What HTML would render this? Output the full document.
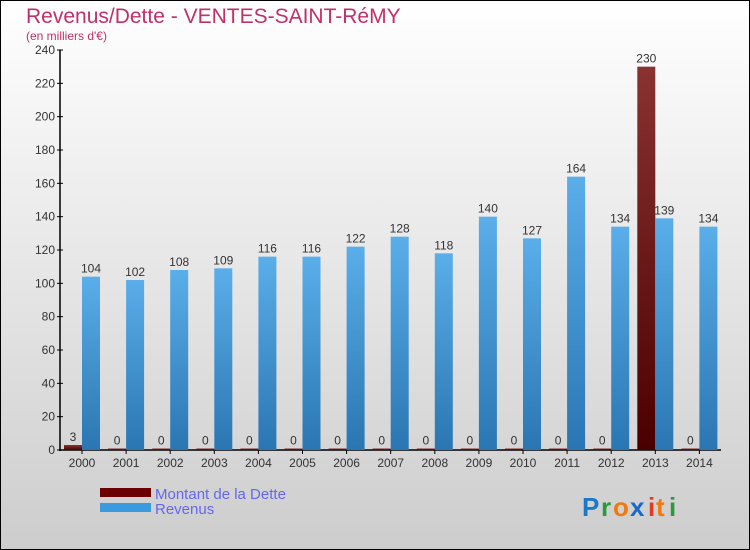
<!DOCTYPE html>
<html><head><meta charset="utf-8"><style>
body{margin:0}
#c{width:750px;height:550px;position:relative;overflow:hidden;font-family:"Liberation Sans",sans-serif}
</style></head><body>
<div id="c">
<svg id="s" width="750" height="550" xmlns="http://www.w3.org/2000/svg">
<defs>
<linearGradient id="bg" x1="0" y1="0" x2="0" y2="1"><stop offset="0" stop-color="#ffffff"/><stop offset="1" stop-color="#cdcdcd"/></linearGradient>
<linearGradient id="gb" x1="0" y1="0" x2="0" y2="1"><stop offset="0" stop-color="#5aaee9"/><stop offset="1" stop-color="#2a76b2"/></linearGradient>
<linearGradient id="gr" x1="0" y1="0" x2="0" y2="1"><stop offset="0" stop-color="#8a3232"/><stop offset="1" stop-color="#4a0000"/></linearGradient>
</defs>
<rect x="0.5" y="0.5" width="749" height="549" fill="url(#bg)" stroke="#000"/>
<text x="26" y="23" font-size="21" fill="#c0306a">Revenus/Dette - VENTES-SAINT-RéMY</text>
<text x="26" y="40" font-size="12" fill="#c0306a">(en milliers d'€)</text>
<g id="plot"></g>
<rect x="100" y="488" width="51" height="9" fill="#6a0000"/>
<rect x="100" y="503" width="51" height="9" fill="#3a9ae0"/>
<text x="155" y="499" font-size="15" fill="#6666ee">Montant de la Dette</text>
<text x="155" y="514" font-size="15" fill="#6666ee">Revenus</text>
<g font-size="26" font-weight="bold" font-family="'Liberation Sans',sans-serif">
<text x="582" y="516" fill="#1a78cc">P</text><text x="601" y="516" fill="#2a9a3a">r</text><text x="613" y="516" fill="#f07a10">o</text><text x="630" y="516" fill="#1a6acc">x</text><text x="648" y="516" fill="#e03a20">i</text><text x="656" y="516" fill="#f07a10">t</text><text x="669" y="516" fill="#2a9a3a">i</text>
</g>
</svg>
</div>
<script>
const years=["2000","2001","2002","2003","2004","2005","2006","2007","2008","2009","2010","2011","2012","2013","2014"];
const dette=[3,0,0,0,0,0,0,0,0,0,0,0,0,230,0];
const revenus=[104,102,108,109,116,116,122,128,118,140,127,164,134,139,134];
const ticks=[0,20,40,60,80,100,120,140,160,180,200,220,240];
const NS="http://www.w3.org/2000/svg";
const g=document.getElementById('plot');
const y=v=>450-v*400/240;
const xc=i=>82+i*44.1;
function mk(t,a){const e=document.createElementNS(NS,t);for(const k in a)e.setAttribute(k,a[k]);g.appendChild(e);return e;}
let ax=mk('line',{x1:60,y1:50,x2:60,y2:451,stroke:'#000','stroke-width':1.5});


let bx=mk('line',{x1:59,y1:450,x2:721,y2:450,stroke:'#000','stroke-width':1.5});


ticks.forEach(t=>{
 mk('line',{x1:57,y1:y(t),x2:63,y2:y(t),stroke:'#000'});
 const tx=mk('text',{x:55,y:y(t)+4,'font-size':12,'text-anchor':'end',fill:'#333'});
 tx.textContent=t;
 
 
});
years.forEach((yr,i)=>{
 const c=xc(i);
 mk('line',{x1:c,y1:450,x2:c,y2:454,stroke:'#000'});
 const l=mk('text',{x:c,y:467,'font-size':12,'text-anchor':'middle',fill:'#333'});
 l.textContent=yr;
 
 
 const hd=Math.max(dette[i]*400/240,1.5);
 const b1=mk('rect',{x:c-18,y:450-hd,width:18,height:hd,fill:'url(#gr)'});
 
 
 const v1=mk('text',{x:c-9,y:450-hd-4,'font-size':12,'text-anchor':'middle',fill:'#333'});
 v1.textContent=dette[i];
 
 
 const b2=mk('rect',{x:c,y:y(revenus[i]),width:18,height:450-y(revenus[i]),fill:'url(#gb)'});
 
 
 const v2=mk('text',{x:c+9,y:y(revenus[i])-4,'font-size':12,'text-anchor':'middle',fill:'#333'});
 v2.textContent=revenus[i];
 
 
});
</script>
</body></html>
